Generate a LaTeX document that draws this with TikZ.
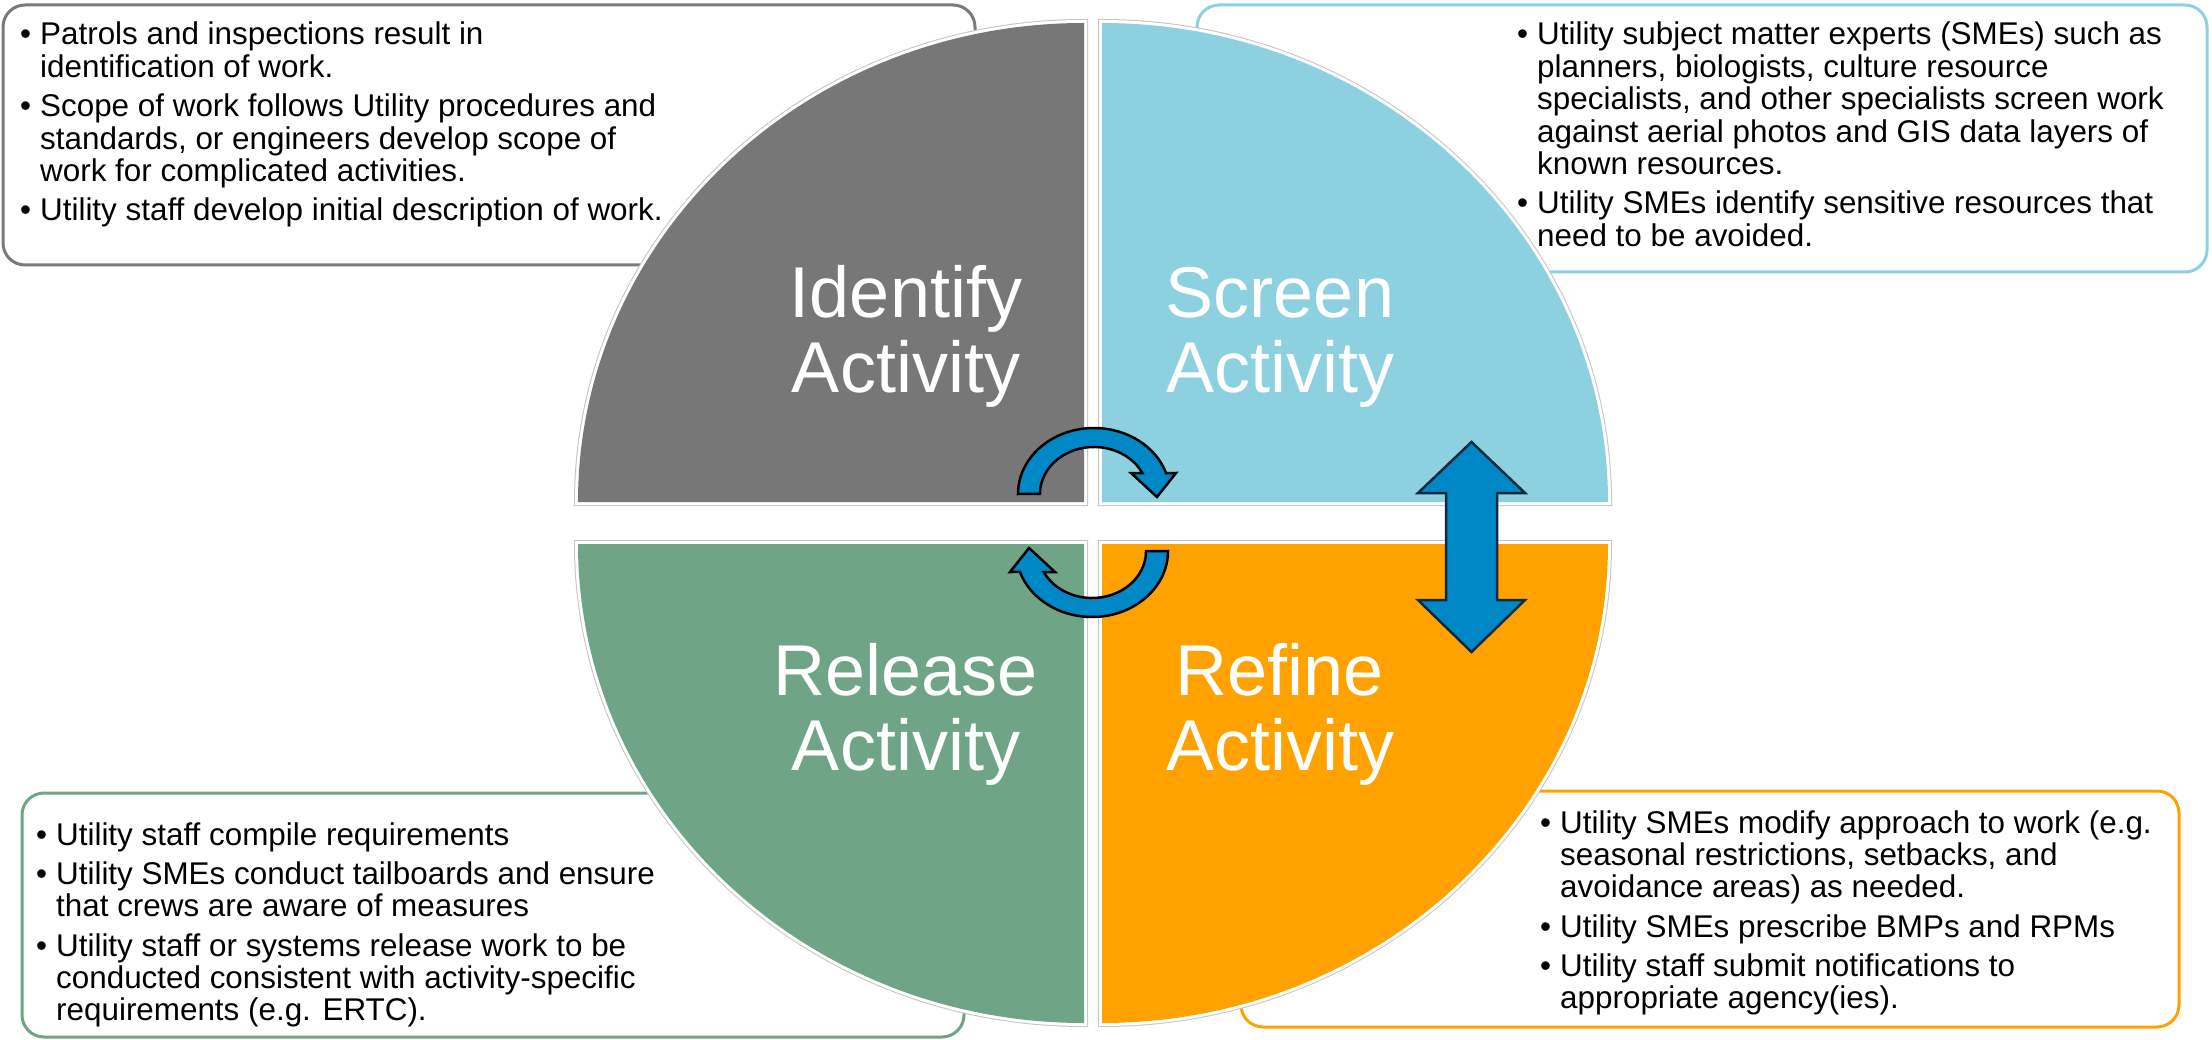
\documentclass[tikz,border=0pt]{standalone}
\usepackage{fontspec}
\setmainfont{Liberation Sans}
\usepackage{array}

\definecolor{idgray}{HTML}{777777}
\definecolor{scblue}{HTML}{8DD1E0}
\definecolor{rlgreen}{HTML}{6FA487}
\definecolor{rforange}{HTML}{FFA200}
\definecolor{arrblue}{HTML}{0088C6}
\definecolor{arrline}{HTML}{0F2A3D}
\definecolor{ringgray}{HTML}{C4C4C4}
\definecolor{boxgray}{HTML}{7A7A7A}

% bullet with a fixed hanging width
\newcommand\bu{\makebox[20pt][l]{\textbullet}}
\newcommand\twoline[2]{\begin{tabular}[t]{@{}c@{}}#1\\#2\end{tabular}}

\tikzset{
  infobox/.style={draw=#1, line width=3pt, fill=white, rounded corners=22pt},
  bodytext/.style={anchor=base west, inner sep=0pt, text=black,
                   font=\fontsize{31.4}{32}\selectfont},
  bigtext/.style={anchor=base, inner sep=0pt, text=white,
                  font=\fontsize{72}{75}\selectfont},
  quad/.style={preaction={draw=ringgray, line width=8pt},
               preaction={draw=white, line width=6pt},
               fill=#1},
  blockarrow/.style={fill=arrblue, draw=#1, line width=2.5pt, line join=miter},
  blockarrow/.default=black,
}

\begin{document}
\begin{tikzpicture}[x=1pt, y=-1pt]
  \useasboundingbox (0,0) rectangle (2212,1040);

  % description panels
  \draw[infobox=boxgray]  (3,5)     rectangle (975,265);
  \draw[infobox=scblue]   (1197,5)  rectangle (2207,272);
  \draw[infobox=rlgreen]  (22,793)  rectangle (964,1037);
  \draw[infobox=rforange] (1241,791) rectangle (2179,1027);

  \node[bodytext] (idtext) at (20,45) {\begin{tabular}[t]{@{}l@{}l@{}}
    \bu & Patrols and inspections result in\\
        & identification of work.\\[7pt]
    \bu & Scope of work follows Utility procedures and\\
        & standards, or engineers develop scope of\\
        & work for complicated activities.\\[7pt]
    \bu & Utility staff develop initial description of work.
  \end{tabular}};

  \node[bodytext] (sctext) at (1517,45) {\begin{tabular}[t]{@{}l@{}l@{}}
    \bu & Utility subject matter experts (SMEs) such as\\
        & planners, biologists, culture resource\\
        & specialists, and other specialists screen work\\
        & against aerial photos and GIS data layers of\\
        & known resources.\\[7pt]
    \bu & Utility SMEs identify sensitive resources that\\
        & need to be avoided.
  \end{tabular}};

  \node[bodytext] (rltext) at (36,845) {\begin{tabular}[t]{@{}l@{}l@{}}
    \bu & Utility staff compile requirements\\[7pt]
    \bu & Utility SMEs conduct tailboards and ensure\\
        & that crews are aware of measures\\[7pt]
    \bu & Utility staff or systems release work to be\\
        & conducted consistent with activity-specific\\
        & requirements (e.g. ERTC).
  \end{tabular}};

  \node[bodytext] (rftext) at (1540,833) {\begin{tabular}[t]{@{}l@{}l@{}}
    \bu & Utility SMEs modify approach to work (e.g.\\
        & seasonal restrictions, setbacks, and\\
        & avoidance areas) as needed.\\[7pt]
    \bu & Utility SMEs prescribe BMPs and RPMs\\[7pt]
    \bu & Utility staff submit notifications to\\
        & appropriate agency(ies).
  \end{tabular}};

  % the four quarters of the cycle
  \path[quad=idgray] (1084,502) -- (578,502)
    arc[start angle=180, end angle=270, x radius=506, y radius=479] -- cycle;
  \path[quad=scblue] (1102,502) -- (1102,23)
    arc[start angle=270, end angle=360, x radius=506, y radius=479] -- cycle;
  \path[quad=rlgreen] (1084,544) -- (578,544)
    arc[start angle=180, end angle=90, x radius=506, y radius=479] -- cycle;
  \path[quad=rforange] (1102,544) -- (1608,544)
    arc[start angle=0, end angle=90, x radius=506, y radius=479] -- cycle;

  \node[bigtext] (identify) at (906,318)  {\twoline{Identify}{Activity}};
  \node[bigtext] (screen)   at (1280,318) {\twoline{Screen}{Activity}};
  \node[bigtext] (release)  at (906,695)  {\twoline{Release}{Activity}};
  \node[bigtext] (refine)   at (1280,695) {\twoline{Refine}{Activity}};

  % circular arrows around the centre
  \path[blockarrow] (1018,494)
    arc[start angle=180, end angle=341.45, x radius=76, y radius=66]
    -- (1176,473) -- (1157,497) -- (1131,473) -- (1142.3,473)
    arc[start angle=333.5, end angle=180, x radius=54, y radius=47] -- cycle;
  \begin{scope}[rotate around={180:(1093,522.5)}]
    \path[blockarrow] (1018,494)
      arc[start angle=180, end angle=341.45, x radius=76, y radius=66]
      -- (1176,473) -- (1157,497) -- (1131,473) -- (1142.3,473)
      arc[start angle=333.5, end angle=180, x radius=54, y radius=47] -- cycle;
  \end{scope}

  % two-way arrow between screening and refining
  \path[blockarrow=arrline] (1471.5,442) -- (1525,493) -- (1497,493) -- (1497,600)
    -- (1525,600) -- (1471.5,652) -- (1418,600) -- (1446,600) -- (1446,493)
    -- (1418,493) -- cycle;
\end{tikzpicture}
\end{document}
